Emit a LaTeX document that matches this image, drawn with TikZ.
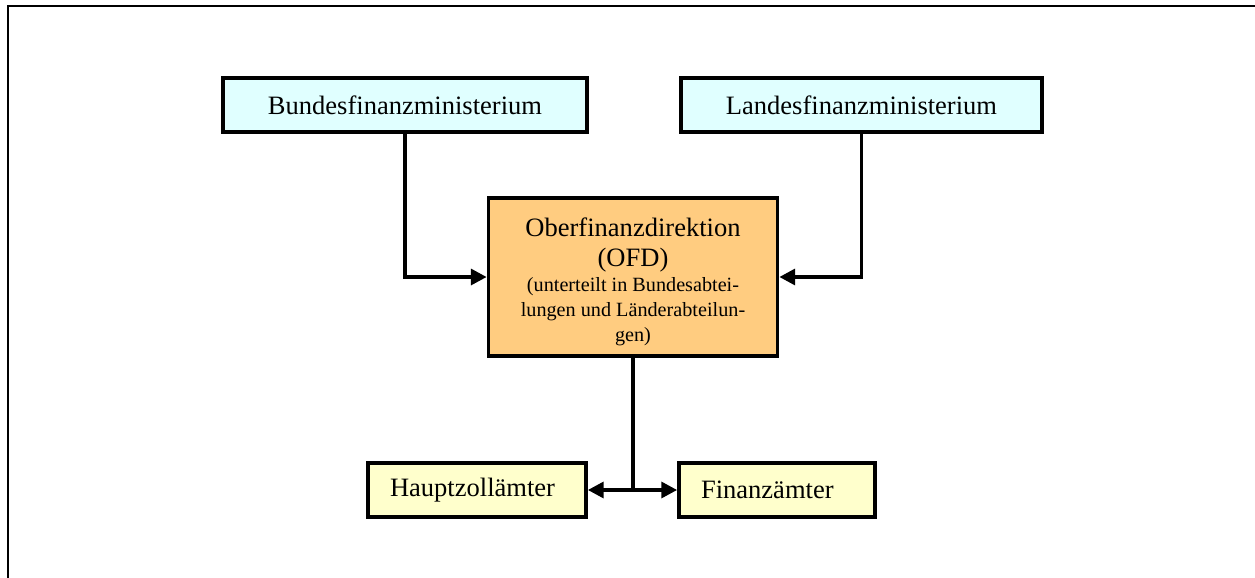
\documentclass[tikz,border=0pt]{standalone}
\usepackage{fontspec}
\setmainfont{Liberation Serif}
\usepackage{xcolor}
\usetikzlibrary{arrows.meta}

\definecolor{ministry}{HTML}{E0FFFF}
\definecolor{direktion}{HTML}{FFCC80}
\definecolor{amt}{HTML}{FFFFCC}

\newcommand\ofdsmall{\fontsize{11.5}{14.2}\selectfont}

\tikzset{
	box/.style={draw,line width=2.1pt,minimum height=1.08cm,inner sep=0pt,font=\fontsize{15.1}{17}\selectfont},
	amtbox/.style={box,fill=amt,inner xsep=0.44cm,align=left},
	conn/.style={line width=2.1pt,-{Triangle[length=9pt,width=9pt]}}
}

\begin{document}
\begin{tikzpicture}[x=0.02cm,y=-0.02cm]
	\useasboundingbox (0,0) rectangle (1255,578);
	\draw[line width=1.6pt] (8,578) -- (8,6) -- (1255,6);
	% Ministerien
	\node[box,fill=ministry,minimum width=7.28cm] (bund) at (405,105) {Bundesfinanzministerium};
	\node[box,fill=ministry,minimum width=7.22cm] (land) at (861.5,105) {Landesfinanzministerium};
	% Mittelbehoerde
	\node[box,fill=direktion,minimum width=5.78cm,minimum height=3.16cm,align=center] (ofd) at (633,277)
		{\rule{0pt}{16pt}Oberfinanzdirektion\\(OFD)\\[-2.8pt]\ofdsmall (unterteilt in Bundesabtei-\\[-2.8pt]\ofdsmall lungen und Länderabteilun-\\[-2.8pt]\ofdsmall gen)};
	% Ortsbehoerden
	\node[amtbox,text width=3.48cm] (hza) at (477,490) {Hauptzollämter};
	\node[amtbox,text width=3.04cm] (fa) at (777,490) {Finanzämter};
	\coordinate (split) at (ofd.south |- hza.east);
	\draw[conn] (bund.south) |- (ofd.west);
	\draw[conn] (land.south) |- (ofd.east);
	\draw[line width=2.1pt] (ofd.south) -- (split);
	\draw[conn] (split) -- (hza.east);
	\draw[conn] (split) -- (fa.west);
\end{tikzpicture}
\end{document}
